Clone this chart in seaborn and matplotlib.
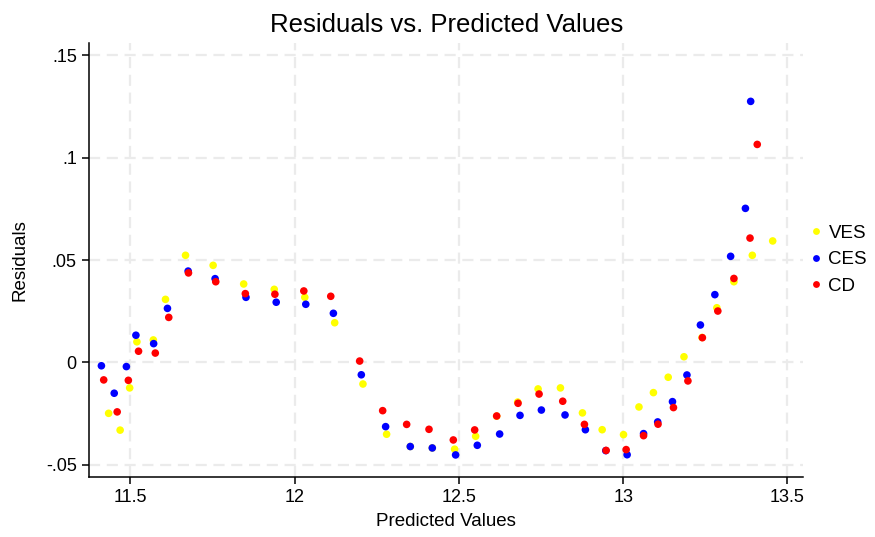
import matplotlib
matplotlib.use("Agg")
import matplotlib.pyplot as plt
import matplotlib.ticker as mticker
import pandas as pd
import seaborn as sns

# Predicted values / residuals, one pair of arrays per model
ves_pred = [11.434, 11.469, 11.498, 11.520, 11.570, 11.607, 11.668, 11.752, 11.845, 11.938,
            12.031, 12.122, 12.208, 12.280, 12.352, 12.419, 12.487, 12.551, 12.615, 12.679,
            12.741, 12.809, 12.876, 12.936, 13.001, 13.048, 13.092, 13.137, 13.185, 13.240,
            13.285, 13.337, 13.393, 13.455]
ves_resid = [-0.0248, -0.0330, -0.0124, 0.0101, 0.0110, 0.0308, 0.0523, 0.0474, 0.0383, 0.0357,
             0.0318, 0.0194, -0.0105, -0.0350, -0.0410, -0.0417, -0.0423, -0.0360, -0.0262, -0.0193,
             -0.0129, -0.0124, -0.0246, -0.0328, -0.0352, -0.0217, -0.0147, -0.0072, 0.0028, 0.0122,
             0.0267, 0.0394, 0.0523, 0.0593]

ces_pred = [11.412, 11.451, 11.488, 11.517, 11.571, 11.613, 11.676, 11.758, 11.852, 11.944,
            12.034, 12.118, 12.203, 12.277, 12.352, 12.419, 12.490, 12.556, 12.624, 12.686,
            12.751, 12.823, 12.885, 12.947, 13.012, 13.062, 13.105, 13.150, 13.194, 13.235,
            13.279, 13.327, 13.372, 13.388]
ces_resid = [-0.0016, -0.0150, -0.0020, 0.0133, 0.0092, 0.0264, 0.0446, 0.0409, 0.0318, 0.0294,
             0.0284, 0.0240, -0.0060, -0.0313, -0.0410, -0.0417, -0.0451, -0.0404, -0.0349, -0.0258,
             -0.0232, -0.0256, -0.0328, -0.0430, -0.0450, -0.0347, -0.0290, -0.0191, -0.0061, 0.0183,
             0.0331, 0.0518, 0.0752, 0.1274]

cd_pred = [11.419, 11.460, 11.494, 11.525, 11.576, 11.617, 11.677, 11.760, 11.850, 11.940,
           12.028, 12.110, 12.198, 12.268, 12.341, 12.409, 12.483, 12.548, 12.615, 12.680,
           12.744, 12.816, 12.882, 12.948, 13.009, 13.062, 13.106, 13.153, 13.197, 13.241,
           13.288, 13.337, 13.386, 13.408]
cd_resid = [-0.0085, -0.0241, -0.0087, 0.0055, 0.0046, 0.0220, 0.0437, 0.0394, 0.0336, 0.0333,
            0.0349, 0.0323, 0.0007, -0.0235, -0.0302, -0.0326, -0.0378, -0.0329, -0.0261, -0.0199,
            -0.0154, -0.0189, -0.0302, -0.0429, -0.0425, -0.0357, -0.0301, -0.0220, -0.0090, 0.0121,
            0.0251, 0.0410, 0.0607, 0.1064]

models = ["VES", "CES", "CD"]
colors = {"VES": "#ffff00", "CES": "#0000ff", "CD": "#ff0000"}
x_ticks = [11.5, 12, 12.5, 13, 13.5]
y_ticks = [-0.05, 0, 0.05, 0.1, 0.15]

df = pd.concat([
    pd.DataFrame({"pred": ves_pred, "resid": ves_resid, "model": "VES"}),
    pd.DataFrame({"pred": ces_pred, "resid": ces_resid, "model": "CES"}),
    pd.DataFrame({"pred": cd_pred, "resid": cd_resid, "model": "CD"}),
], ignore_index=True)

sns.set_theme(style="white")
plt.rcParams["font.family"] = ["Liberation Sans", "DejaVu Sans"]
plt.rcParams["text.color"] = "black"

fig = plt.figure(figsize=(8.75, 5.37), dpi=100)
ax = fig.add_axes([0.102, 0.112, 0.816, 0.808])

sns.scatterplot(data=df, x="pred", y="resid", hue="model", hue_order=models,
                palette=colors, s=30, linewidth=0, ax=ax, zorder=3)

ax.set_xlim(11.375, 13.548)
ax.set_ylim(-0.0558, 0.1559)
ax.set_xticks(x_ticks)
ax.set_yticks(y_ticks)
ax.xaxis.set_major_formatter(mticker.FuncFormatter(lambda v, p: f"{v:g}"))
ax.yaxis.set_major_formatter(
    mticker.FuncFormatter(lambda v, p: "0" if abs(v) < 1e-9 else f"{v:g}".replace("0.", ".")))

ax.grid(True, color="#ebebeb", linestyle=(0, (5, 3)), linewidth=1.6, zorder=0)
ax.set_axisbelow(True)
for side in ["top", "right"]:
    ax.spines[side].set_visible(False)
for side in ["left", "bottom"]:
    ax.spines[side].set_color("black")
    ax.spines[side].set_linewidth(1.1)
ax.tick_params(axis="both", direction="out", length=5, width=1.1, color="black",
               labelsize=13, labelcolor="black", bottom=True, left=True, pad=4)

ax.set_title("Residuals vs. Predicted Values", fontsize=18.5, color="black", pad=8)
ax.set_xlabel("Predicted Values", fontsize=13.5, color="black")
ax.set_ylabel("Residuals", fontsize=13.5, color="black")
ax.xaxis.set_label_coords(0.5, -0.083)
ax.yaxis.set_label_coords(-0.085, 0.5)

ax.legend(loc="center left", bbox_to_anchor=(805 / 875, 1 - 259.5 / 537),
          bbox_transform=fig.transFigure, borderaxespad=0, borderpad=0.3,
          frameon=False, title=None, fontsize=13.5, handlelength=0.6,
          handletextpad=0.35, labelspacing=0.5, markerscale=0.9)

fig.savefig("out.png", dpi=100, facecolor="white")
